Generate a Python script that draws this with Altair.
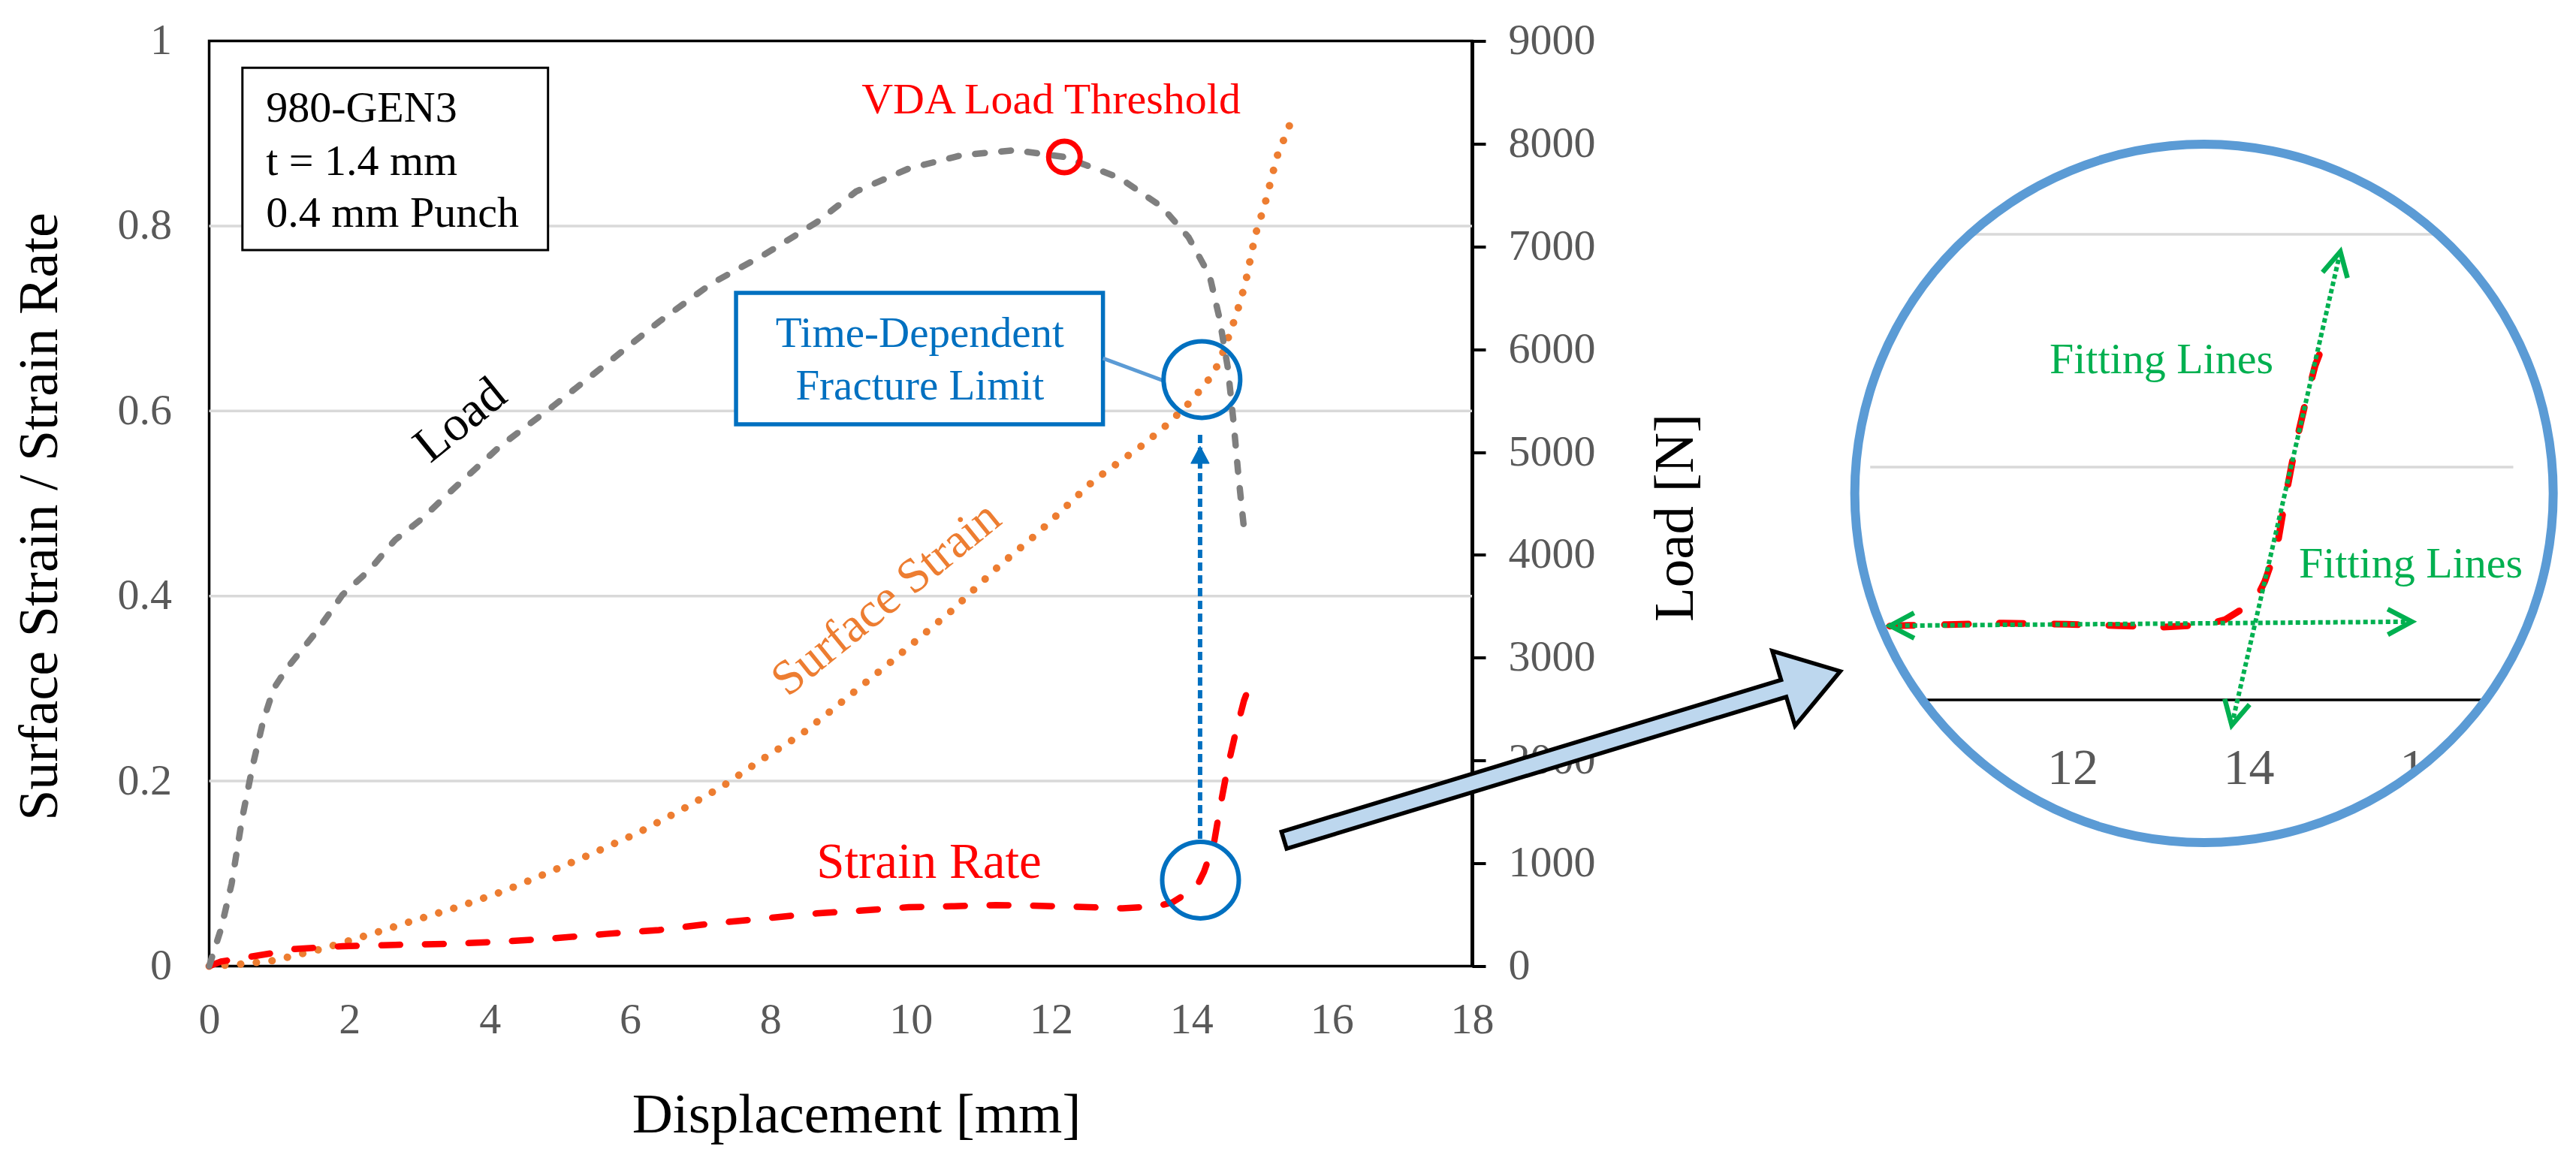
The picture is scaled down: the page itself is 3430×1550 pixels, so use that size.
import altair as alt
import pandas as pd

FONT = "Liberation Serif"

# ---------------- data ----------------
load_disp = [0.0, 0.17, 0.32, 0.47, 0.62, 0.77, 0.92, 1.11, 1.53, 1.90,
             2.28, 2.65, 3.03, 3.40, 4.15, 4.90, 5.66, 6.41, 7.16, 7.91,
             8.66, 9.22, 9.97, 10.73, 11.48, 12.19, 12.98, 13.58, 13.96, 14.26,
             14.40, 14.52, 14.60, 14.67, 14.75]
load_N = [0, 364, 800, 1436, 1948, 2385, 2700, 2899, 3254, 3612,
          3850, 4146, 4350, 4591, 5059, 5446, 5857, 6267, 6640, 6920,
          7236, 7535, 7758, 7889, 7937, 7871, 7667, 7386, 7090, 6717,
          6304, 5818, 5300, 4776, 4256]

surf_disp = [0.0, 0.43, 0.92, 1.60, 2.28, 2.95, 3.59, 4.23, 4.83, 5.47,
             6.11, 6.71, 7.31, 7.87, 8.43, 8.83, 9.72, 10.58, 11.25, 11.81,
             12.61, 13.32, 13.68, 14.00, 14.30, 14.41, 14.52, 14.64, 14.77, 14.91,
             15.05, 15.22, 15.40]
surf_strain = [0.0, 0.002, 0.006, 0.0185, 0.034, 0.050, 0.065, 0.082, 0.101, 0.122,
               0.144, 0.168, 0.194, 0.223, 0.250, 0.274, 0.329, 0.384, 0.432, 0.468,
               0.525, 0.564, 0.587, 0.611, 0.639, 0.655, 0.678, 0.704, 0.738, 0.790,
               0.824, 0.875, 0.909]

rate_disp = [0.0, 0.17, 0.62, 0.85, 1.22, 1.90, 2.65, 3.40, 4.15, 4.90,
             5.66, 6.41, 7.16, 7.91, 8.66, 9.30, 9.97, 10.58, 11.21, 11.93,
             12.53, 13.02, 13.51, 13.73, 14.07, 14.18, 14.32, 14.41, 14.52, 14.63,
             14.75, 14.87]
strain_rate = [0.0, 0.005, 0.0105, 0.0134, 0.0185, 0.0215, 0.023, 0.024, 0.0264, 0.030,
               0.0348, 0.039, 0.046, 0.0515, 0.057, 0.060, 0.0637, 0.0647, 0.066, 0.065,
               0.0637, 0.0625, 0.0647, 0.069, 0.085, 0.102, 0.132, 0.172, 0.216, 0.252,
               0.287, 0.311]

x_ticks = [0, 2, 4, 6, 8, 10, 12, 14, 16, 18]
y_ticks = [0, 0.2, 0.4, 0.6, 0.8, 1.0]
y_grid = [0.2, 0.4, 0.6, 0.8]
load_ticks = [0, 1000, 2000, 3000, 4000, 5000, 6000, 7000, 8000, 9000]

# annotation anchors (data units)
vda_point = {"x": [12.19], "y": [7871]}
frac_circles = {"x": [14.15, 14.13], "y": [0.634, 0.093]}
info_lines = ["980-GEN3", "t = 1.4 mm", "0.4 mm Punch"]
info_y = [0.9127, 0.8555, 0.7995]
info_box = {"x1": [0.474], "x2": [4.83], "y1": [0.774], "y2": [0.971]}
frac_box = {"x1": [7.51], "x2": [12.74], "y1": [0.5856], "y2": [0.7277]}
frac_lines = ["Time-Dependent", "Fracture Limit"]
frac_y = [0.6692, 0.6124]
connector = {"x": [12.74], "y": [0.657], "x2": [13.60], "y2": [0.6328]}
up_arrow = {"x": [14.124], "y": [0.1376], "y2": [0.575], "tip": [0.562]}

# magnified inset
inset_ticks = [10, 12, 14, 16]
inset_grid = [0.2, 0.4]
fit_lines = {"x": [9.926, 13.804], "y": [0.0637, -0.0217],
             "x2": [15.848, 15.037], "y2": [0.0672, 0.3851]}
fit_ends = {"x": [9.926, 15.848, 13.804, 15.037],
            "y": [0.0637, 0.0672, -0.0217, 0.3851],
            "ang": [179.55, 359.55, 102.9, 282.9]}
fit_labels = {"x": [13.006, 15.836], "y": [0.2806, 0.1052], "t": ["Fitting Lines", "Fitting Lines"]}
inset_center = {"x": [13.489], "y": [0.1774]}
block_arrow = {"x": [19.285], "y": [0.2274]}

# ---------------- colours ----------------
GREY = "#7F7F7F"
ORANGE = "#ED7D31"
RED = "#FF0000"
BLUE = "#0070C0"
LBLUE = "#5B9BD5"
GREEN = "#00B050"
GRID = "#D9D9D9"
LABEL = "#595959"

W, H = 1681.5, 1232


def XM(f, axis=None):
    return alt.X(f"{f}:Q", scale=alt.Scale(domain=[0, 18], nice=False, zero=False), axis=axis)


def YM(f, axis=None):
    return alt.Y(f"{f}:Q", scale=alt.Scale(domain=[0, 1], nice=False, zero=False), axis=axis)


def XL(f):
    return alt.X(f"{f}:Q", scale=alt.Scale(domain=[0, 18], nice=False, zero=False), axis=None)


def YL(f, axis=None):
    return alt.Y(f"{f}:Q", scale=alt.Scale(domain=[0, 9000], nice=False, zero=False), axis=axis)


def XI(f):
    return alt.X(f"{f}:Q", scale=alt.Scale(domain=[10, 16], range=[2246.9, 2950.7], nice=False, zero=False), axis=None)


def YI(f):
    return alt.Y(f"{f}:Q", scale=alt.Scale(domain=[0, 0.4], range=[877.5, 257.5], nice=False, zero=False), axis=None)


x_axis = alt.Axis(orient="bottom", values=x_ticks, format="d", labelFontSize=58, labelColor=LABEL,
                  labelFont=FONT, ticks=False, domain=False, grid=False, labelPadding=42.5,
                  labelFlush=False, labelOverlap=False,
                  title="Displacement [mm]", titleFont=FONT, titleFontSize=75, titleFontWeight="normal",
                  titleColor="black", titleX=861.5, titleY=220.5, titleBaseline="alphabetic",
                  titleAlign="center")
y_axis = alt.Axis(orient="left", values=y_ticks, format=".1~f", labelFontSize=58, labelColor=LABEL,
                  labelFont=FONT, ticks=False, domain=False, grid=False, labelPadding=50,
                  labelOverlap=False,
                  title="Surface Strain / Strain Rate", titleFont=FONT, titleFontSize=74,
                  titleFontWeight="normal", titleColor="black", titleAngle=270,
                  titleBaseline="alphabetic", titleAlign="center", titleX=-203, titleY=633)
load_axis = alt.Axis(orient="right", values=load_ticks, format="d", labelFontSize=58, labelColor=LABEL,
                     labelFont=FONT, ticks=True, tickSize=18, tickWidth=4, tickColor="black",
                     domain=True, domainColor="black", domainWidth=5, grid=False, labelPadding=30,
                     labelOverlap=False,
                     title="Load [N]", titleFont=FONT, titleFontSize=75, titleFontWeight="normal",
                     titleColor="black", titleAngle=270, titleBaseline="alphabetic", titleAlign="center",
                     titleX=293, titleY=634.5)

df_load = pd.DataFrame({"x": load_disp, "y": load_N})
df_surf = pd.DataFrame({"x": surf_disp, "y": surf_strain})
df_rate = pd.DataFrame({"x": rate_disp, "y": strain_rate})
df_rate_inset = df_rate[df_rate["x"] >= 9.3]


def text_layer(xs, ys, texts, enc_x, enc_y, **kw):
    d = pd.DataFrame({"x": xs, "y": ys, "t": texts})
    return alt.Chart(d).mark_text(font=FONT, **kw).encode(x=enc_x("x"), y=enc_y("y"), text="t:N")


# ---------------- main (left-axis) layers ----------------
grid = alt.Chart(pd.DataFrame({"y": y_grid, "x": [0] * 4, "x2": [18] * 4})).mark_rule(
    color=GRID, strokeWidth=3.5).encode(x=XM("x", x_axis), x2="x2:Q", y=YM("y", y_axis))

box1 = alt.Chart(pd.DataFrame(info_box)).mark_rect(fill="white", stroke="black", strokeWidth=3).encode(
    x=XM("x1"), x2="x2:Q", y=YM("y1"), y2="y2:Q")
box2 = alt.Chart(pd.DataFrame(frac_box)).mark_rect(fill="white", stroke=BLUE, strokeWidth=5.5).encode(
    x=XM("x1"), x2="x2:Q", y=YM("y1"), y2="y2:Q")

surf = alt.Chart(df_surf).mark_line(color=ORANGE, strokeWidth=10, strokeDash=[0.1, 20.9],
                                    strokeCap="round").encode(x=XM("x"), y=YM("y"))
rate = alt.Chart(df_rate).mark_line(color=RED, strokeWidth=8.5, strokeDash=[25, 33],
                                    strokeCap="round").encode(x=XM("x"), y=YM("y"))

conn = alt.Chart(pd.DataFrame(connector)).mark_rule(color=LBLUE, strokeWidth=5).encode(
    x=XM("x"), y=YM("y"), x2="x2:Q", y2="y2:Q")
circles = alt.Chart(pd.DataFrame(frac_circles)).mark_point(
    shape="circle", size=10404, filled=False, stroke=BLUE, strokeWidth=6, opacity=1).encode(
    x=XM("x"), y=YM("y"))
vline = alt.Chart(pd.DataFrame(up_arrow)).mark_rule(color=BLUE, strokeWidth=6, strokeDash=[11, 6]).encode(
    x=XM("x"), y=YM("y"), y2="y2:Q")
vhead = alt.Chart(pd.DataFrame(up_arrow)).mark_point(
    shape="M0,0 L0.53,1 L-0.53,1 Z", size=2116, filled=True, fill=BLUE, stroke=BLUE, strokeWidth=1,
    opacity=1).encode(x=XM("x"), y=YM("tip"))

t_info = text_layer([0.81] * 3, info_y, info_lines, XM, YM, fontSize=58, color="black",
                    align="left", baseline="alphabetic")
t_frac = text_layer([10.13] * 2, frac_y, frac_lines, XM, YM, fontSize=57, color=BLUE,
                    align="center", baseline="alphabetic")
t_vda = text_layer([12.0], [0.922], ["VDA Load Threshold"], XM, YM, fontSize=58, color=RED,
                   align="center", baseline="alphabetic")
t_rate = text_layer([10.26], [0.0954], ["Strain Rate"], XM, YM, fontSize=67, color=RED,
                    align="center", baseline="alphabetic")
t_surf = text_layer([9.649], [0.3973], ["Surface Strain"], XM, YM, fontSize=65, color=ORANGE,
                    align="center", baseline="middle", angle=321)
t_load = text_layer([3.58], [0.59], ["Load"], XM, YM, fontSize=66, color="black",
                    align="center", baseline="middle", angle=321)

# ---------------- load (right-axis) layers ----------------
load_line = alt.Chart(df_load).mark_line(color=GREY, strokeWidth=8.5, strokeDash=[13, 22],
                                         strokeCap="round").encode(x=XL("x"), y=YL("y", load_axis))
vda = alt.Chart(pd.DataFrame(vda_point)).mark_point(shape="circle", size=1764, filled=False,
                                                     stroke=RED, strokeWidth=7, opacity=1).encode(
    x=XL("x"), y=YL("y"))

# ---------------- magnified inset ----------------
i_grid = alt.Chart(pd.DataFrame({"y": inset_grid, "x": [9.7, 9.7], "x2": [17, 17]})).mark_rule(
    color=GRID, strokeWidth=3.5).encode(x=XI("x"), x2="x2:Q", y=YI("y"))
i_axis = alt.Chart(pd.DataFrame({"y": [0], "x": [9.7], "x2": [17]})).mark_rule(
    color="black", strokeWidth=3.5).encode(x=XI("x"), x2="x2:Q", y=YI("y"))
i_labels = text_layer(inset_ticks, [-0.0723] * 4, [str(v) for v in inset_ticks], XI, YI,
                      fontSize=68, color=LABEL, align="center", baseline="alphabetic")
i_rate = alt.Chart(df_rate_inset).mark_line(color=RED, strokeWidth=9, strokeDash=[32, 41],
                                            strokeCap="round").encode(x=XI("x"), y=YI("y"))
i_fit = alt.Chart(pd.DataFrame(fit_lines)).mark_rule(color=GREEN, strokeWidth=6, strokeDash=[6, 4]).encode(
    x=XI("x"), y=YI("y"), x2="x2:Q", y2="y2:Q")
i_heads = alt.Chart(pd.DataFrame(fit_ends)).mark_point(
    shape="M-1,-0.53 L0,0 L-1,0.53", size=4096, filled=False, stroke=GREEN, strokeWidth=6.5,
    opacity=1, strokeJoin="miter").encode(x=XI("x"), y=YI("y"), angle=alt.Angle("ang:Q", scale=None))
i_text = text_layer(fit_labels["x"], fit_labels["y"], fit_labels["t"], XI, YI, fontSize=58,
                    color=GREEN, align="center", baseline="alphabetic")
i_mask = alt.Chart(pd.DataFrame(inset_center)).mark_arc(
    theta=0, theta2=6.2831853, innerRadius=470, outerRadius=620, fill="white").encode(
    x=XI("x"), y=YI("y"))
i_ring = alt.Chart(pd.DataFrame(inset_center)).mark_arc(
    theta=0, theta2=6.2831853, innerRadius=459, outerRadius=471, fill=LBLUE).encode(
    x=XI("x"), y=YI("y"))

# ---------------- block arrow ----------------
ARROW = ("M-1,-0.0305 L0.7966,-0.0305 L0.7966,-0.1344 L1,0 L0.7966,0.1344 "
         "L0.7966,0.0305 L-1,0.0305 Z")
arrow = alt.Chart(pd.DataFrame(block_arrow)).mark_point(
    shape=ARROW, size=599076, angle=343.1, filled=True, fill="#BDD7EE", stroke="black",
    strokeWidth=5.5, strokeJoin="miter", opacity=1).encode(x=XM("x"), y=YM("y"))

chart = alt.layer(
    grid, box1, box2, surf, rate, conn, circles, vline, vhead,
    t_info, t_frac, t_vda, t_rate, t_surf, t_load,
    load_line, vda,
    i_grid, i_axis, i_labels, i_rate, i_fit, i_heads, i_text, i_mask, i_ring,
    arrow,
).resolve_scale(
    x="independent", y="independent"
).properties(
    width=W, height=H,
    padding={"left": 270.5, "top": 46.5, "right": 1448, "bottom": 246.5},
    autosize=alt.AutoSizeParams(type="none"),
    background="white",
).configure_view(stroke="black", strokeWidth=3.5)

chart.save("out.html", embed_options={"renderer": "svg", "actions": False})
